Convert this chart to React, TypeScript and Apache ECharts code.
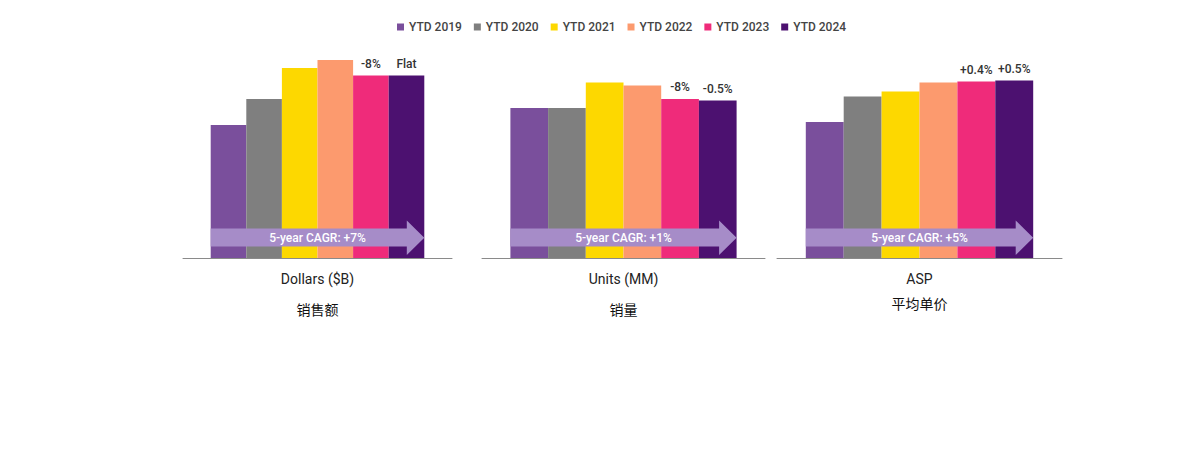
import React, { useEffect, useRef } from "react";
import * as echarts from "echarts";

const years = ["YTD 2019", "YTD 2020", "YTD 2021", "YTD 2022", "YTD 2023", "YTD 2024"];
const colors = ["#7a4f9c", "#7f7f7f", "#fdd800", "#fc9a6e", "#ef2b7a", "#4c1170"];

const panelNames = ["Dollars ($B)", "Units (MM)", "ASP"];
const panelNamesZh = ["销售额", "销量", "平均单价"];

// bar heights (relative scale 0–200)
const dollars = [133, 159, 190, 198, 182.5, 182.5];
const units = [150, 150, 175.5, 172.5, 159, 157.5];
const asp = [136, 161.5, 166.5, 175.5, 176.5, 177.5];

const dollarsChange = ["", "", "", "", "-8%", "Flat"];
const unitsChange = ["", "", "", "", "-8%", "-0.5%"];
const aspChange = ["", "", "", "", "+0.4%", "+0.5%"];

const cagrLabels = ["5-year CAGR: +7%", "5-year CAGR: +1%", "5-year CAGR: +5%"];

const panelValues = [dollars, units, asp];
const panelChanges = [dollarsChange, unitsChange, aspChange];

// layout
const gridLefts = [183, 482, 777];
const gridWidths = [269, 283, 285];
const barWidths = [35.6, 37.7, 37.9];
const gridTop = 58;
const gridHeight = 200;
const yMax = 200;

export default function App() {
  const ref = useRef<HTMLDivElement>(null);

  useEffect(() => {
    if (!ref.current) return;
    const chart = echarts.init(ref.current, null, { renderer: "svg" });

    const grids = gridLefts.map((l, i) => ({
      left: l,
      width: gridWidths[i],
      top: gridTop,
      height: gridHeight,
    }));

    const xAxes = panelNames.map((n, i) => ({
      type: "category",
      gridIndex: i,
      data: [n],
      axisLine: { show: true, lineStyle: { color: "#8a8a8a", width: 1 } },
      axisTick: { show: false },
      axisLabel: {
        margin: 11,
        formatter: () => `{a|${n}}\n{b|${panelNamesZh[i]}}`,
        rich: {
          a: {
            fontFamily: "Roboto",
            fontSize: 14,
            color: "#222",
            lineHeight: 20,
            fontWeight: "normal",
          },
          b: {
            fontFamily: "Noto Sans CJK SC",
            fontSize: 14,
            color: "#111",
            lineHeight: i === 2 ? 28 : 40,
          },
        },
      },
    }));

    const yAxes = panelNames.map((_, i) => ({
      type: "value",
      gridIndex: i,
      min: 0,
      max: yMax,
      show: false,
    }));

    const series: any[] = [];
    panelValues.forEach((vals, p) => {
      vals.forEach((v, y) => {
        const txt = panelChanges[p][y];
        series.push({
          type: "bar",
          name: years[y],
          xAxisIndex: p,
          yAxisIndex: p,
          data: [v],
          barWidth: barWidths[p],
          barGap: "0%",
          itemStyle: { color: colors[y] },
          label: {
            show: txt !== "",
            position: "top",
            distance: 6,
            formatter: () => txt,
            fontFamily: "Roboto",
            fontSize: 12,
            color: "#333",
            fontWeight: 500,
          },
        });
      });
    });

    const graphics: any[] = [];
    gridLefts.forEach((l, i) => {
      const center = l + gridWidths[i] / 2;
      const left = center - 3 * barWidths[i];
      const right = center + 3 * barWidths[i];
      const bodyTop = 228.5;
      const bodyBot = 246.5;
      const headTop = 220.5;
      const headBot = 255;
      const headStart = right - 17.5;
      graphics.push({
        type: "polygon",
        z: 100,
        shape: {
          points: [
            [left, bodyTop],
            [headStart, bodyTop],
            [headStart, headTop],
            [right, (headTop + headBot) / 2],
            [headStart, headBot],
            [headStart, bodyBot],
            [left, bodyBot],
          ],
        },
        style: { fill: "#a68cc8" },
      });
      graphics.push({
        type: "text",
        z: 101,
        x: (left + right) / 2,
        y: (bodyTop + bodyBot) / 2,
        style: {
          text: cagrLabels[i],
          fill: "#ffffff",
          fontFamily: "Roboto",
          fontSize: 12,
          fontWeight: 500,
          align: "center",
          verticalAlign: "middle",
        },
      });
    });

    chart.setOption({
      animation: false,
      backgroundColor: "#ffffff",
      legend: {
        data: years,
        top: 16,
        left: 392,
        icon: "rect",
        itemWidth: 7,
        itemHeight: 7,
        itemGap: 12,
        textStyle: {
          fontFamily: "Roboto",
          fontSize: 12,
          color: "#444",
          fontWeight: 500,
        },
        selectedMode: false,
      },
      grid: grids,
      xAxis: xAxes,
      yAxis: yAxes,
      series,
      graphic: graphics,
    });

    return () => chart.dispose();
  }, []);

  return <div ref={ref} style={{ width: 1200, height: 450, margin: -8 }} />;
}
